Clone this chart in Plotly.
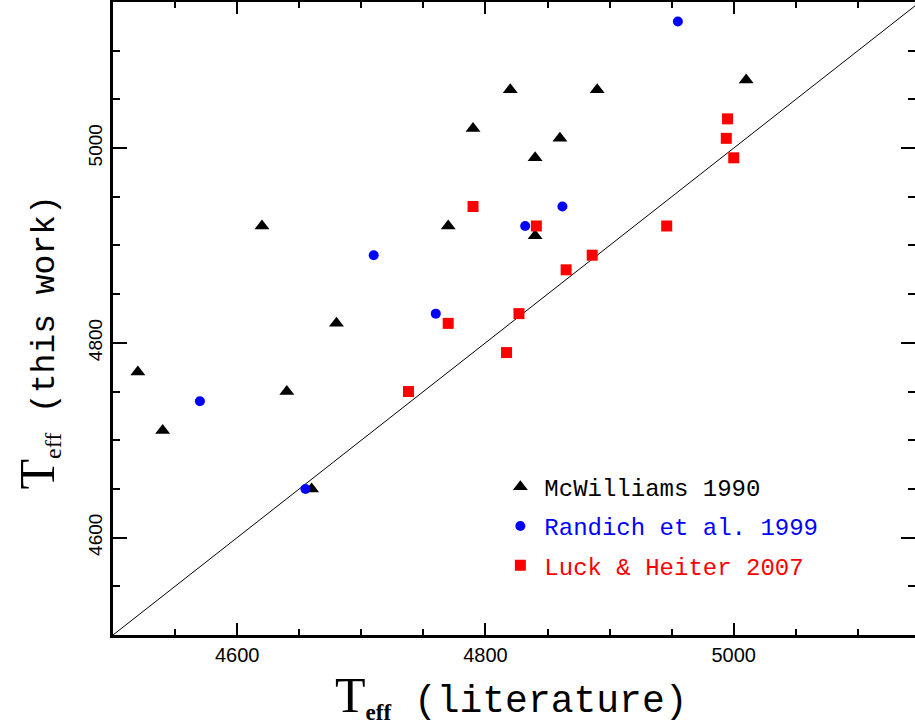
import plotly.graph_objects as go

# McWilliams 1990 (black triangles)
mcw_lit = [4520, 4540, 4620, 4640, 4680, 4660, 4770, 4790, 4820, 4840, 4840, 4860, 4890, 5010]
mcw_this = [4770, 4710, 4920, 4750, 4820, 4650, 4920, 5020, 5060, 4990, 4910, 5010, 5060, 5070]

# Randich et al. 1999 (blue circles)
ran_lit = [4570, 4655, 4710, 4760, 4832, 4862, 4955]
ran_this = [4740, 4650, 4890, 4830, 4920, 4940, 5130]

# Luck & Heiter 2007 (red squares)
luck_lit = [4738, 4770, 4790, 4817, 4827, 4841, 4865, 4886, 4946, 4995, 4994, 5000]
luck_this = [4750, 4820, 4940, 4790, 4830, 4920, 4875, 4890, 4920, 5030, 5010, 4990]

one_to_one = [4500, 5150]
x_ticks = [4600, 4800, 5000]
y_ticks = [4600, 4800, 5000]

MONO = "Liberation Mono"

fig = go.Figure()
fig.add_trace(go.Scatter(x=one_to_one, y=one_to_one, mode="lines",
                         line=dict(color="black", width=1), showlegend=False,
                         hoverinfo="skip"))
fig.add_trace(go.Scatter(x=mcw_lit, y=mcw_this, mode="markers",
                         name='<span style="color:black">McWilliams 1990</span>',
                         legendgroup="a",
                         marker=dict(symbol="triangle-up", size=13, color="black")))
fig.add_trace(go.Scatter(x=ran_lit, y=ran_this, mode="markers",
                         name='<span style="color:blue">Randich et al. 1999</span>',
                         legendgroup="b",
                         marker=dict(symbol="circle", size=10, color="blue")))
fig.add_trace(go.Scatter(x=luck_lit, y=luck_this, mode="markers",
                         name='<span style="color:red">Luck &amp; Heiter 2007</span>',
                         legendgroup="c",
                         marker=dict(symbol="square", size=11, color="red")))

# invisible trace on right axis so the right ticks get drawn
fig.add_trace(go.Scatter(x=[None], y=[None], yaxis="y2", showlegend=False,
                         hoverinfo="skip"))

title_x = ('<span style="font-family:Liberation Serif;font-size:50px">T</span>'
           '<sub><b><span style="font-family:Liberation Serif;font-size:23px">eff</span></b></sub>'
           ' (literature)')
title_y = ('<span style="font-family:Liberation Serif;font-size:50px">T</span>'
           '<sub><span style="font-family:Liberation Serif;font-size:24px">eff</span></sub>'
           ' (this work)')

fig.update_layout(
    width=915, height=728,
    margin=dict(l=113, r=0, t=2, b=93),
    paper_bgcolor="white", plot_bgcolor="white",
    showlegend=True,
    legend=dict(x=0.478, y=0.269, xanchor="left", yanchor="top",
                font=dict(family=MONO, size=24, color="black"),
                bgcolor="rgba(0,0,0,0)", traceorder="grouped",
                tracegroupgap=5, itemsizing="trace", itemwidth=38),
    annotations=[
        dict(text=title_x, xref="paper", yref="paper", x=0.497, y=-0.097,
             xanchor="center", yanchor="middle", showarrow=False,
             font=dict(family=MONO, size=38, color="black")),
        dict(text=title_y, xref="paper", yref="paper", x=-0.0935, y=0.462,
             xanchor="center", yanchor="middle", showarrow=False, textangle=-90,
             font=dict(family=MONO, size=33, color="black")),
    ],
    xaxis=dict(range=[4500, 5146], tickvals=x_ticks, ticktext=[str(v) for v in x_ticks],
               ticks="inside", ticklen=12, tickwidth=2, tickcolor="black",
               showline=True, linewidth=3, linecolor="black", mirror="ticks",
               showgrid=False, zeroline=False,
               minor=dict(dtick=50, tick0=4500, ticks="inside", ticklen=6,
                          tickwidth=1.5, tickcolor="black", showgrid=False),
               tickfont=dict(family="Liberation Sans", size=20, color="black")),
    yaxis=dict(range=[4500, 5150], tickvals=y_ticks, ticktext=[str(v) for v in y_ticks],
               ticks="inside", ticklen=14, tickwidth=2, tickcolor="black",
               showline=True, linewidth=3, linecolor="black", mirror=False,
               showgrid=False, zeroline=False, tickangle=-90,
               minor=dict(dtick=50, tick0=4500, ticks="inside", ticklen=7,
                          tickwidth=1.5, tickcolor="black", showgrid=False),
               tickfont=dict(family="Liberation Sans", size=19, color="black")),
    yaxis2=dict(range=[4500, 5150], overlaying="y", side="right", anchor="x",
                tickvals=y_ticks, showticklabels=False,
                ticks="inside", ticklen=14, tickwidth=2, tickcolor="black",
                showline=False, showgrid=False, zeroline=False,
                minor=dict(dtick=50, tick0=4500, ticks="inside", ticklen=7,
                           tickwidth=1.5, tickcolor="black", showgrid=False)),
)

fig.write_html("out.html")
